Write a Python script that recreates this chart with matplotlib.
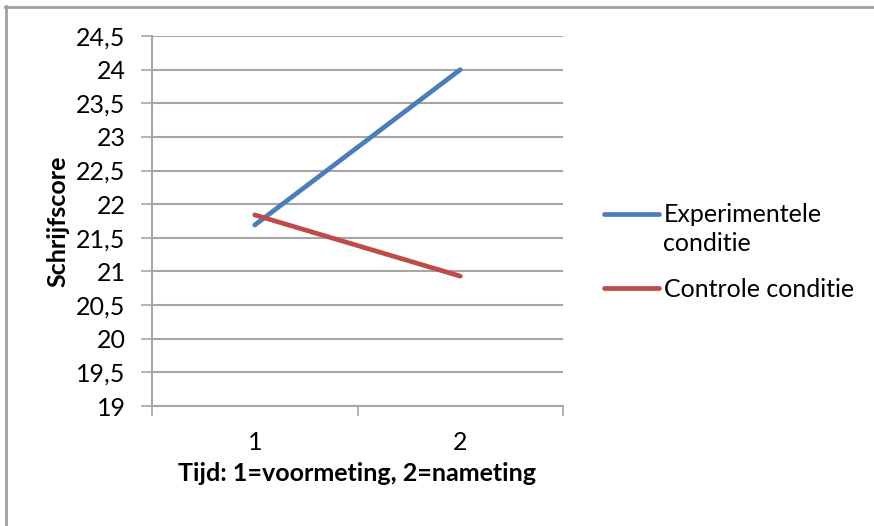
import matplotlib.pyplot as plt
from matplotlib.ticker import FuncFormatter, MultipleLocator, FixedLocator
from matplotlib.lines import Line2D

plt.rcParams['font.family'] = ['Lato', 'DejaVu Sans']

tijd = ["1", "2"]
experimenteel = [21.69, 24.0]
controle = [21.84, 20.93]

blue = "#4A7EBB"
red = "#BE4B48"
grid = "#A6A6A6"
fs = 18

fig = plt.figure(figsize=(8.74, 5.26), dpi=100)
ax = fig.add_axes([152/874, 1-406/526, (563-152)/874, (406-36)/526])

x = range(len(tijd))
ax.plot(x, experimenteel, color=blue, lw=3.4, solid_capstyle="round", label="Experimentele\nconditie")
ax.plot(x, controle, color=red, lw=3.4, solid_capstyle="round", label="Controle conditie")

ax.set_ylim(19, 24.5)
ax.set_xlim(-0.5, 1.5)
ax.yaxis.set_major_locator(MultipleLocator(0.5))
ax.yaxis.set_major_formatter(FuncFormatter(lambda v, p: ("%g" % v).replace(".", ",")))
ax.set_xticks(list(x))
ax.set_xticklabels(tijd)
ax.xaxis.set_minor_locator(FixedLocator([-0.5, 0.5, 1.5]))
ax.tick_params(axis="x", which="major", length=0, labelsize=fs, pad=18)
ax.tick_params(axis="x", which="minor", length=7, width=1.2, color=grid)
ax.tick_params(axis="y", length=8, width=1.2, color=grid, labelsize=fs, pad=11)
ax.grid(axis="y", color=grid, lw=1.5)
ax.set_axisbelow(True)

for s in ["top", "right"]:
    ax.spines[s].set_visible(False)
for s in ["left", "bottom"]:
    ax.spines[s].set_color(grid)
    ax.spines[s].set_linewidth(1.5)

ax.set_ylabel("Schrijfscore", fontsize=fs, fontweight="bold", labelpad=5)
ax.set_xlabel("Tijd: 1=voormeting, 2=nameting", fontsize=fs, fontweight="bold", labelpad=6)

leg = ax.legend(loc="upper left", bbox_to_anchor=(581/874, 1-181/526), bbox_transform=fig.transFigure,
                frameon=False, fontsize=fs, handlelength=2.2, handleheight=1.1,
                handletextpad=0.2, labelspacing=0.9)
for t in leg.get_texts():
    t.set_linespacing(1.3)
# handle next to the first line of a two-line label
for col in leg._legend_handle_box.get_children():
    for item in col.get_children():
        item.align = "top"

# chart area border (left and top only visible)
fig.add_artist(Line2D([5.5/874, 5.5/874], [0, 1-6/526], color="#A0A0A0", lw=2, transform=fig.transFigure))
fig.add_artist(Line2D([5/874, 1], [1-6.5/526, 1-6.5/526], color="#A0A0A0", lw=2, transform=fig.transFigure))

fig.savefig("out.png", dpi=100)
